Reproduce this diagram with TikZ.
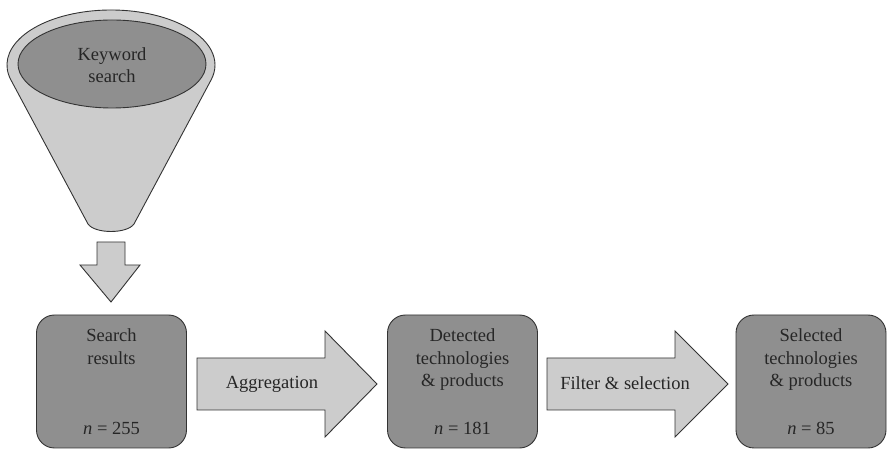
\documentclass[tikz,border=0pt]{standalone}
\usepackage{fontspec}
\setmainfont{Liberation Serif}
\usetikzlibrary{shapes.geometric}
\begin{document}
\begin{tikzpicture}[x=1pt,y=1pt,
  outline/.style={draw=black!80,line width=0.9pt},
  darkfill/.style={fill=black!44},
  lightfill/.style={fill=black!20},
  stagebox/.style={outline,darkfill,rounded corners=18pt,minimum width=150pt,minimum height=133pt,inner sep=0pt},
  lbl/.style={font=\fontsize{18.5}{22.5}\selectfont,align=center,text=black!85,inner sep=0pt}]
\useasboundingbox (0,0) rectangle (887,450);

% funnel: cone body and rim
\path[outline,lightfill,line join=round]
  (111,385) ++(196:104 and 55) arc[start angle=196,end angle=-16,x radius=104,y radius=55]
  -- (134,226) .. controls (127,216) and (95,216) .. (88,226) -- cycle;
\node[outline,darkfill,ellipse,minimum width=188pt,minimum height=88pt,inner sep=0pt] (kw) at (112,386) {};
\node[lbl] (kwtext) at ([yshift=-1pt]kw.center) {Keyword\\search};

% down arrow under the funnel
\path[outline,lightfill,line join=miter]
  (97,208) -- (125,208) -- (125,185) -- (140,185) -- (111,148) -- (80,185) -- (97,185) -- cycle;

% stages
\node[stagebox] (s1) at (111.5,68.5) {};
\node[stagebox] (s2) at (462.5,68.5) {};
\node[stagebox] (s3) at (811,68.5) {};

\node[lbl,anchor=north] (s1t) at ([yshift=-14pt]s1.north) {Search\\results};
\node[lbl] (s1n) at ([yshift=20pt]s1.south) {{\itshape n} = 255};
\node[lbl,anchor=north] (s2t) at ([yshift=-14pt]s2.north) {Detected\\technologies\\\& products};
\node[lbl] (s2n) at ([yshift=20pt]s2.south) {{\itshape n} = 181};
\node[lbl,anchor=north] (s3t) at ([yshift=-14pt]s3.north) {Selected\\technologies\\\& products};
\node[lbl] (s3n) at ([yshift=20pt]s3.south) {{\itshape n} = 85};

% block arrows between stages
\path[outline,lightfill,line join=miter]
  (197,92) -- (325,92) -- (325,119) -- (377,66) -- (325,13) -- (325,40) -- (197,40) -- cycle;
\node[lbl] (agg) at (272,66) {Aggregation};
\path[outline,lightfill,line join=miter]
  (547,92) -- (675,92) -- (675,119) -- (728,66) -- (675,13) -- (675,40) -- (547,40) -- cycle;
\node[lbl] (filt) at (625,67) {Filter \& selection};
\end{tikzpicture}
\end{document}
